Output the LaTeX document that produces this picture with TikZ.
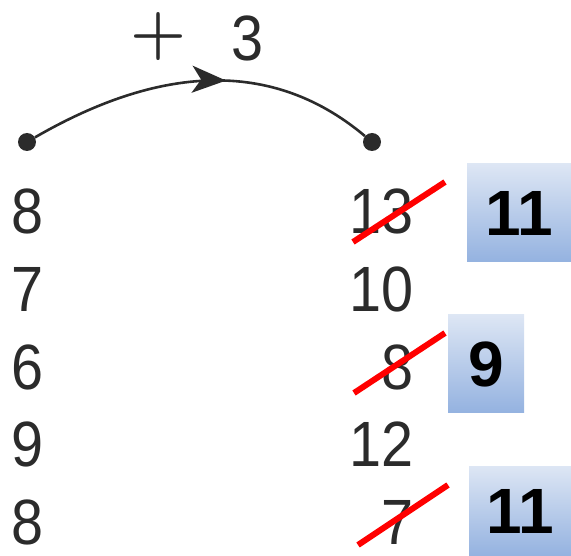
\documentclass[tikz,border=0pt]{standalone}
\usepackage{fontspec}
\setmainfont{Liberation Sans}
\newfontfamily\numfont[FakeStretch=0.9]{Liberation Sans}
\newfontfamily\plusfont{Latin Modern Roman}
\usetikzlibrary{arrows.meta, decorations.markings}
\definecolor{ink}{HTML}{2B2B2B}
\definecolor{boxtop}{HTML}{DDE6F4}
\definecolor{boxbot}{HTML}{94B2E0}
\definecolor{redpen}{HTML}{FF0000}
\tikzset{
  % printed numbers
  digit/.style={font=\numfont\fontsize{64}{64}\selectfont, text=ink, inner sep=0pt, anchor=base},
  % end points of the jump
  dot/.style={circle, fill=ink, inner sep=0pt, minimum size=18pt},
  % the jump arc with its arrow half way
  hop/.style={line width=2.6pt, draw=ink,
    decoration={markings, mark=at position 0.57 with
      {\arrow{Stealth[length=34pt, width=27pt, inset=9pt]}}},
    postaction={decorate}},
  % corrections
  strike/.style={line width=6pt, draw=redpen},
  fixbox/.style={top color=boxtop, bottom color=boxbot, inner sep=0pt,
    font=\fontsize{64}{64}\selectfont\bfseries, text=black},
}

\begin{document}
\begin{tikzpicture}[x=1pt, y=-1pt]
\useasboundingbox (0,0) rectangle (571,556);

% ====================================================================
% Jump +3
% ====================================================================
\node[dot] (start) at (27,142) {};
\node[dot] (stop) at (372,142) {};
\draw[hop] (start) .. controls (148,72) and (265,52) .. (stop);

\node[font=\plusfont\bfseries\fontsize{64}{64}\selectfont, text=ink, inner sep=0pt, anchor=base]
  (plus) at (158,53) {+};
\node[digit] (three) at (248,61) {3};

% ====================================================================
% Columns
% ====================================================================
\foreach \v [count=\i] in {8,7,6,9,8} {
  \node[digit] (l\i) at (28, {234+77.5*(\i-1)}) {\v};
}
\foreach \v [count=\i] in {13,10,8,12,7} {
  \node[digit, anchor=base east] (r\i) at (414, {234+77.5*(\i-1)}) {\v};
}

% ====================================================================
% Corrections
% ====================================================================
\draw[strike] ([shift={(-61,8)}]r1.base east) -- ([shift={(31,-52)}]r1.base east);
\draw[strike] ([shift={(-60,4)}]r3.base east) -- ([shift={(31,-56)}]r3.base east);
\draw[strike] ([shift={(-56,1)}]r5.base east) -- ([shift={(34,-59)}]r5.base east);

\node[fixbox, minimum width=104pt, minimum height=98pt] (fix1) at (519,213) {11};
\node[fixbox, minimum width=76pt, minimum height=98pt] (fix3) at (486,364) {9};
\node[fixbox, minimum width=102pt, minimum height=90pt] (fix5) at (520,511) {11};

\end{tikzpicture}
\end{document}
